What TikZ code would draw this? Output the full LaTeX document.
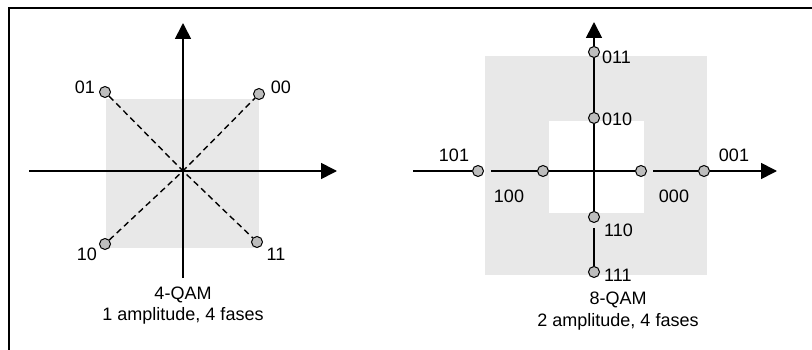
\documentclass[tikz,border=0pt]{standalone}
\usepackage{fontspec}
\setmainfont{Liberation Sans}
\usepackage{xcolor}
\usetikzlibrary{arrows.meta,positioning,calc}

\definecolor{qamfill}{HTML}{E8E8E8}
\definecolor{dotgray}{HTML}{BDBDBD}

\begin{document}
\begin{tikzpicture}[
  x=1pt,y=-1pt,
  font=\fontsize{18}{21}\selectfont,>={Triangle[length=16pt,width=16pt]},
  sym/.style={draw,circle,inner sep=0pt,minimum size=11pt,fill=dotgray,line width=1pt},
  ax/.style={line width=1.7pt},
  diag/.style={line width=1.4pt,dash pattern=on 6pt off 4pt},
  lbl/.style={inner sep=0pt}
]
\useasboundingbox (0,0) rectangle (812,350);
% frame
\draw[line width=2pt] (812,8) -- (9,8) -- (9,350);

% 4-QAM
\fill[qamfill] (106,99) rectangle (259,248);
\coordinate (o1) at (183,171);
\draw[ax,->] (29,171) -- (337,171);
\draw[ax,->] (183,278) -- (183,23);
\node[sym] (p01) at (105,92) {};
\node[sym] (p00) at (259,94) {};
\node[sym] (p10) at (105,244) {};
\node[sym] (p11) at (257,242) {};
\draw[diag] (p01) -- (o1) -- (p11);
\draw[diag] (p10) -- (o1) -- (p00);
\node[lbl] (l01) at (85,87) {01};
\node[lbl] (l00) at (281,87) {00};
\node[lbl] (l10) at (87,254) {10};
\node[lbl] (l11) at (276,254) {11};
\node[lbl] (t1) at (183,295) {4-QAM};
\node[lbl,below=4pt of t1] {1 amplitude, 4 fases};

% 8-QAM
\fill[qamfill] (485,56) rectangle (707,275);
\fill[white] (549,121) rectangle (644,213);
\coordinate (xl) at (413,171);
\coordinate (xr) at (777,171);
\coordinate (yt) at (594,22);
\node[sym] (h101) at (478,171) {};
\node[sym] (h100) at (543,171) {};
\node[sym] (h000) at (641,171) {};
\node[sym] (h001) at (704,171) {};
\node[sym] (v011) at (594,52) {};
\node[sym] (v010) at (594,118) {};
\node[sym] (v110) at (594,217) {};
\node[sym] (v111) at (594,272) {};
\draw[ax] (xl) -- (h101);
\draw[ax,shorten <=7pt] (h101) -- (h100);
\draw[ax] (h100) -- (h000);
\draw[ax,shorten <=6pt] (h000) -- (h001);
\draw[ax,->] (h001) -- (xr);
\draw[ax,->] (v011) -- (yt);
\draw[ax] (v011) -- (v010) -- (v110);
\draw[ax,shorten <=5pt] (v110) -- (v111);
\node[lbl,anchor=west] (l011) at (602,57) {011};
\node[lbl,anchor=west] (l010) at (602,119) {010};
\node[lbl,anchor=west] (l110) at (604,230) {110};
\node[lbl,anchor=west] (l111) at (604,275) {111};
\node[lbl] (l101) at (454,155) {101};
\node[lbl] (l100) at (509,196) {100};
\node[lbl] (l000) at (674,196) {000};
\node[lbl] (l001) at (734,155) {001};
\node[lbl] (t2) at (618,300) {8-QAM};
\node[lbl,below=5pt of t2] {2 amplitude, 4 fases};
\end{tikzpicture}
\end{document}
